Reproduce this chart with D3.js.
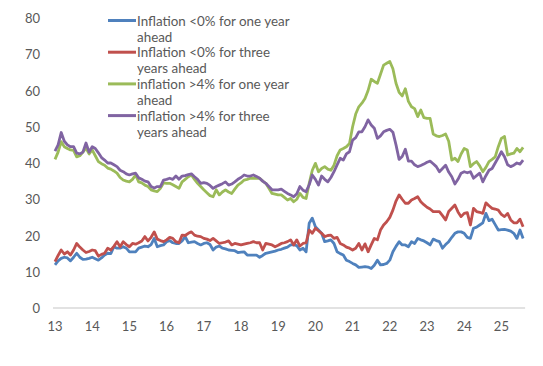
<!DOCTYPE html>
<html><head><meta charset="utf-8">
<script src="https://cdn.jsdelivr.net/npm/d3@7"></script>
<style>body{margin:0;background:#fff}svg{display:block}text{font-family:Lato,"Open Sans",sans-serif;fill:#595959}</style>
</head><body><svg id="c" width="543" height="366"></svg>
<script>
const yearLabels = ["13","14","15","16","17","18","19","20","21","22","23","24","25"];
const yTicks = [0,10,20,30,40,50,60,70,80];
const seriesNames = ["Inflation <0% for one year|ahead","Inflation <0% for three|years ahead","inflation >4% for one year|ahead","inflation >4% for three|years ahead"];
const colors = ["#4F81BD","#C0504D","#9BBB59","#8064A2"];
// monthly values, Jan 2013 .. Aug 2025
const below0OneYear = [11.9,13,13.7,14,13.8,13,14,15.1,14,13.4,
13.5,13.7,14,13.6,13.2,13.8,14.6,15.1,15,16.9,
16.5,16.5,16.9,16.5,15.5,15.5,15.5,16.5,16.8,17.1,
16.9,17.5,19.2,16.9,17.2,17.4,18.3,18.6,18,17.8,
17.8,18.5,19.7,18,18.2,18.3,17.8,17.4,17.8,18,
17.5,16,16.8,17.1,16.5,16.3,16,15.9,15.8,15.3,
15.4,15.5,14.6,14.6,14.6,14.6,14,14.5,15.1,15.3,
15.5,15.7,16,16.2,16.5,16.8,17.4,17.4,17.2,16,
16.5,15.5,23.4,24.8,22.4,21.5,20.6,18.3,18.5,18.8,
17.8,15.5,15,14.6,13.2,12.8,12.3,11.9,11.2,11.3,
11.4,11.3,10.9,11.8,13.2,11.9,12,12.3,13.2,15.5,
17,18.3,17.4,17.4,16.9,18.3,17.8,19.2,18.8,18.5,
18,17.4,19,18.6,18.3,16.5,17.5,18.3,19.5,20.6,
21,21,20.6,19.5,19.2,22,22.3,22.9,23.5,26.1,
24.1,24.5,23,21.5,21.6,21.7,21.5,21.2,20.6,19.2,
21.5,19.2];
const below0ThreeYears = [12.8,14.5,16,14.9,15.5,14.6,16,17.8,16.8,16,
15.3,15.6,16,15.8,14.3,14.8,15.1,16.5,16,17,
18.3,16.9,18.3,17.5,16.9,17.8,17.6,18,18.5,19.7,
18.5,19.5,21,19,18.6,18.3,18.8,19.5,19.2,18.3,
18,20.1,20,20.6,21,20.1,19.8,19.7,19.2,19,
18.6,19.2,18.5,17.8,18,18.2,18.5,17.4,17.8,17.6,
17.4,17.6,17.8,18,18.3,18,18,16,17.8,17.6,
17.4,16.9,17.3,17.8,18,18.3,18.8,17.4,18.8,17.1,
17.8,18,21.5,20.6,22,21.3,20.6,19.7,20,20.1,
19.2,19.5,17.8,17.4,16.8,16.5,16,16.5,17.8,16,
17.7,15.5,17.4,19.2,18.8,21.5,22.9,23.8,25,27,
29.5,31.2,30,28.9,28.9,29.8,30.2,30.7,29.3,28.5,
27.8,27.3,26.6,26.6,26.6,25.5,24.3,26.6,27.5,28.4,
26.5,25.2,26.1,26.3,22.9,27.5,26.6,26.4,26.1,29,
28.2,27.5,27.3,27,25.8,25.2,26.1,24.3,23.5,23.5,
24.5,22.4];
const above4OneYear = [41,43,45.9,44.5,44,43.6,43.5,41.7,42,43,
44.1,42.5,43.6,42,40.4,39.8,39.4,38.6,38.3,37.8,
37.2,36,35.3,35,34.8,35.5,36.7,34.8,34.5,33.9,
33.5,32.6,32.3,32.1,33,34.5,34.4,34.4,34,33.5,
33,34.8,35.5,36.2,36.7,35.5,34.4,33.5,32.6,31.8,
31,30.7,32.6,31.2,32,32.6,32,31.6,32.8,33.9,
34.5,35.3,35.5,35.8,35.8,35.8,35.8,35,34.4,33,
31.6,31.4,31.2,31.2,30.5,29.8,30.2,29.3,30,31.6,
30.5,30.2,34.4,38,39.9,37.6,38.5,39,38.3,38,
39.4,42,43.6,44,44.5,45.4,50,53.5,55.5,56.5,
57.8,60,63.1,62.5,62,64.5,67,67.5,68,66,
62,59.5,58.5,60.5,57,55.5,55,52.8,54.6,52.5,
52.3,52.3,48,47.5,47.3,47.6,48,46,40.8,41.3,
40.4,42.5,44,43.6,39,39.8,40.4,39.2,37.6,38.8,
40.4,41,41.7,44.5,46.8,47.3,42.2,42.5,42.7,44,
43.1,44.3];
const above4ThreeYears = [43.3,45,48.4,46,45,44.5,44.5,42.7,42.5,43,
45.5,43,44.5,44,42.8,41.5,40.8,40,40,39.5,
39,38,37.6,37,36.7,37,37.2,35.9,35.5,35,
34.8,33.5,33.1,33.5,33.5,35.3,35.5,35.8,35.5,36.4,
35.5,36.4,36.5,36.8,37,36.2,35.5,34.4,34.6,34.4,
33.8,33,33.5,33.9,34.3,34.8,33.9,34.2,34.8,35.5,
36,36.7,36.4,36.4,36.7,36.3,35.8,35,34.4,33.5,
32.6,32.6,32.6,32.8,32.2,31.6,31.2,30.7,31.5,33.5,
32.5,32.1,34,36.7,35.5,33.9,36.4,35.5,34.8,36,
37.6,39.5,41.3,40.8,42.5,43.1,46.3,47,48.6,48.6,
50,51.9,50.5,49.6,46.8,47.5,48.6,49,49.3,48.5,
45,41,41.8,43.8,40.5,40.5,39.5,39,39.3,39.7,
40.2,40.5,39.8,39,37.6,38.5,39.4,37.5,36.2,34.2,
35.5,37.2,37.6,37.3,37.6,35.8,36.5,37.2,34.8,36.5,
38,38.5,40,41.5,43.1,41.7,39.5,39,39.4,40,
39.7,40.8];
const allSeries = [below0OneYear, below0ThreeYears, above4OneYear, above4ThreeYears];

const svg = d3.select("#c");
const x = d3.scaleLinear().domain([0,152]).range([55,526.2]);
const y = d3.scaleLinear().domain([0,80]).range([308,18]);

// y labels
svg.append("g").selectAll("text").data(yTicks).join("text")
  .attr("x",40).attr("y",d=>y(d)).attr("text-anchor","end").attr("dominant-baseline","central")
  .style("font-size","13px").text(d=>d);
// baseline
svg.append("line").attr("x1",x(0)-2).attr("x2",x(151)+2).attr("y1",y(0)).attr("y2",y(0))
  .attr("stroke","#d9d9d9").attr("stroke-width",1.5);
// x labels
svg.append("g").selectAll("text").data(yearLabels).join("text")
  .attr("x",(d,i)=>x(i*12)).attr("y",326).attr("text-anchor","middle").attr("dominant-baseline","central")
  .style("font-size","13px").text(d=>d);

const line = d3.line().x((d,i)=>x(i)).y(d=>y(d));
svg.append("g").selectAll("path").data(allSeries).join("path")
  .attr("d",line).attr("fill","none").attr("stroke",(d,i)=>colors[i])
  .attr("stroke-width",2.8).attr("stroke-linejoin","round");

// legend
const lg = svg.append("g");
seriesNames.forEach((n,i)=>{
  const yy = 20.5 + i*31.7;
  lg.append("line").attr("x1",108).attr("x2",136).attr("y1",yy).attr("y2",yy)
    .attr("stroke",colors[i]).attr("stroke-width",3);
  n.split("|").forEach((t,j)=>{
    lg.append("text").attr("x",137).attr("y",yy+j*16.2).attr("dominant-baseline","central")
      .style("font-size","13.4px").text(t);
  });
});
</script></body></html>
